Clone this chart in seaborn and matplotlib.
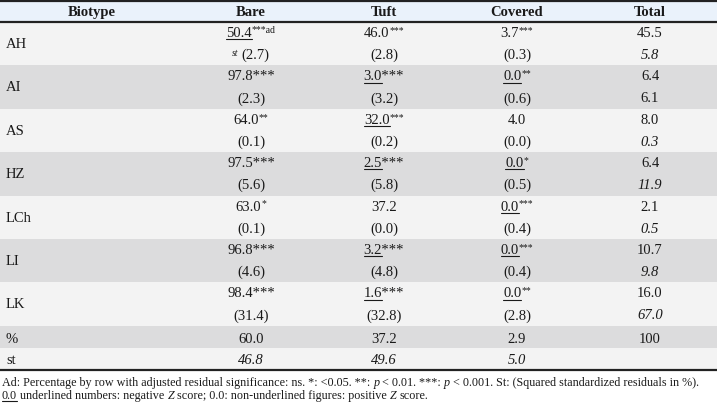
import matplotlib
matplotlib.use("Agg")
import matplotlib.pyplot as plt
import seaborn as sns

# ---- table data ----
columns = ["Biotype", "Bare", "Tuft", "Covered", "Total"]
biotypes = ["AH", "AI", "AS", "HZ", "LCh", "LI", "LK"]

bare_pct = [50.4, 97.8, 64.0, 97.5, 63.0, 96.8, 98.4]
tuft_pct = [46.0, 3.0, 32.0, 2.5, 37.2, 3.2, 1.6]
covered_pct = [3.7, 0.0, 4.0, 0.0, 0.0, 0.0, 0.0]
total_pct = [45.5, 6.4, 8.0, 6.4, 2.1, 10.7, 16.0]

bare_res = [2.7, 2.3, 0.1, 5.6, 0.1, 4.6, 31.4]
tuft_res = [2.8, 3.2, 0.2, 5.8, 0.0, 4.8, 32.8]
covered_res = [0.3, 0.6, 0.0, 0.5, 0.4, 0.4, 2.8]
total_res = [5.8, 6.1, 0.3, 11.9, 0.5, 9.8, 67.0]

bare_sig = ["***ad", "***", "**", "***", "*", "***", "***"]
tuft_sig = ["***", "***", "***", "***", "", "***", "***"]
covered_sig = ["***", "**", "", "*", "***", "***", "**"]

# superscript (small) vs full-size stars, per cell
bare_small = [True, False, True, False, True, False, False]
tuft_small = [True, False, True, False, False, False, False]
covered_small = [True] * 7

# negative Z score -> underlined
bare_neg = [True, False, False, False, False, False, False]
tuft_neg = [False, True, True, True, False, True, True]
covered_neg = [False, True, False, True, True, True, True]

pct_row = [60.0, 37.2, 2.9, 100]
st_row = [46.8, 49.6, 5.0]

footnote1 = ["Ad: Percentage by row with adjusted residual significance: ns. *: <0.05. **:", "p",
             "< 0.01. ***:", "p", "< 0.001. St: (Squared standardized residuals in %)."]
footnote2 = ["0.0", "underlined numbers: negative", "Z", "score; 0.0: non-underlined figures: positive",
             "Z", "score."]

# ---- styling ----
sns.set_theme(style="white")
plt.rcParams["font.family"] = ["Liberation Serif", "DejaVu Serif"]
FS = 10.5
SUP = 7
INK = "#1a1a1a"

fig = plt.figure(figsize=(7.17, 4.05), dpi=100)
ax = fig.add_axes([0, 0, 1, 1])
ax.set_xlim(0, 717)
ax.set_ylim(405, 0)
ax.axis("off")
renderer = fig.canvas.get_renderer()

col_x = [92, 251, 384, 517, 650]
header_top, header_bot = 1, 22
row_h = 43.4
light, dark = "#f3f3f3", "#dcdcdd"

# backgrounds
ax.axhspan(header_top, header_bot, color="#eaf2fb", lw=0)
for i in range(len(biotypes)):
    top = header_bot + i * row_h
    ax.axhspan(top, top + row_h, color=dark if i % 2 else light, lw=0)
y_pct = header_bot + len(biotypes) * row_h
ax.axhspan(y_pct, y_pct + 22, color=dark, lw=0)
ax.axhspan(y_pct + 22, y_pct + 44, color=light, lw=0)
bottom = y_pct + 44

for y in (header_top, header_bot, bottom):
    ax.axhline(y, color="#222222", lw=1.6)


def text_width(s, **kw):
    t = ax.text(0, 0, s, **kw)
    w = t.get_window_extent(renderer).width
    t.remove()
    return w


def flow(x, y, parts, center=True):
    """parts: list of (text, fontsize, style, raise, underline, gap_after)
    underline may be a bool or a prefix of the text to underline"""
    texts = []
    for s, fs, st, up, ul, gap in parts:
        t = ax.text(0, y - up, s, ha="left", va="baseline", fontsize=fs,
                    style=st, color=INK)
        w = t.get_window_extent(renderer).width
        if isinstance(ul, str):
            ul = text_width(ul, fontsize=fs, style=st)
        elif ul:
            ul = w
        texts.append((t, w, ul, gap))
    total = sum(w + g for _, w, _, g in texts) - texts[-1][3]
    x0 = x - total / 2 if center else x
    for t, w, ul, gap in texts:
        t.set_x(x0)
        if ul:
            ax.plot([x0, x0 + ul], [y + 2.2, y + 2.2], color=INK, lw=0.8)
        x0 += w + gap


# header
for name, x in zip(columns, col_x):
    ax.text(x, 16, name, ha="center", va="baseline", fontsize=FS,
            fontweight="bold", color=INK)

for i, bt in enumerate(biotypes):
    top = header_bot + i * row_h
    y1, y2 = top + 15, top + 37
    ax.text(6, top + 26, bt, ha="left", va="baseline", fontsize=FS, color=INK)
    for cx, pct, sig, small, neg, res in [
        (col_x[1], bare_pct[i], bare_sig[i], bare_small[i], bare_neg[i], bare_res[i]),
        (col_x[2], tuft_pct[i], tuft_sig[i], tuft_small[i], tuft_neg[i], tuft_res[i]),
        (col_x[3], covered_pct[i], covered_sig[i], covered_small[i], covered_neg[i], covered_res[i]),
    ]:
        num = f"{pct:.1f}"
        if sig and small:
            parts = [(num, FS, "normal", 0, neg, 0),
                     (sig, SUP, "normal", 4, False, 0)]
        else:
            parts = [(num + sig, FS, "normal", 0, num if neg else False, 0)]
        flow(cx, y1, parts)
        res_parts = [(f"({res:.1f})", FS, "normal", 0, False, 0)]
        if i == 0 and cx == col_x[1]:
            res_parts.insert(0, ("st", SUP, "italic", 3, False, 3))
        flow(cx, y2, res_parts)
    ax.text(col_x[4], y1, f"{total_pct[i]:.1f}", ha="center", va="baseline",
            fontsize=FS, color=INK)
    ax.text(col_x[4], y2, f"{total_res[i]:.1f}", ha="center", va="baseline",
            fontsize=FS, color=INK, style="normal" if bt == "AI" else "italic")

# % and st rows
ax.text(6, y_pct + 17, "%", ha="left", va="baseline", fontsize=FS, color=INK)
for x, v in zip(col_x[1:], pct_row):
    ax.text(x, y_pct + 17, f"{v:.1f}" if v != 100 else "100", ha="center",
            va="baseline", fontsize=FS, color=INK)
ax.text(6, y_pct + 38, "st", ha="left", va="baseline", fontsize=FS, color=INK)
for x, v in zip(col_x[1:4], st_row):
    ax.text(x, y_pct + 38, f"{v:.1f}", ha="center", va="baseline",
            fontsize=FS, color=INK, style="italic")

# footnote
FN = 8.7
g = 3
styles1 = ["normal", "italic", "normal", "italic", "normal"]
flow(2, 386, [(s, FN, st, 0, False, g) for s, st in zip(footnote1, styles1)], center=False)
styles2 = ["normal", "normal", "italic", "normal", "italic", "normal"]
flow(2, 399, [(s, FN, st, 0, k == 0, g) for k, (s, st) in enumerate(zip(footnote2, styles2))],
     center=False)

fig.savefig("out.png", dpi=100, facecolor="white")
